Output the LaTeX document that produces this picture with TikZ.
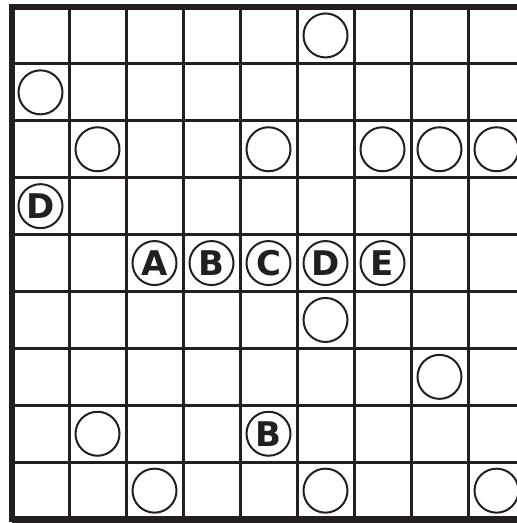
\documentclass[tikz,border=0pt]{standalone}
\usepackage{fontspec}
\setmainfont{DejaVu Sans}
\definecolor{ink}{HTML}{231F20}
\begin{document}
\begin{tikzpicture}[x=1pt, y=-1pt,
  gridline/.style={line width=3pt, draw=ink},
  frame/.style={line width=6.5pt, draw=ink},
  ring/.style={circle, draw=ink, line width=2pt, minimum size=44pt, inner sep=0pt,
    text=ink, font=\fontsize{34}{34}\selectfont\bfseries}]
  \useasboundingbox (0,0) rectangle (517,523);
  \clip (0,0) rectangle (517,523);

  % Grid: 9 x 9 cells, the right column cut off
  \foreach \k in {1,...,9}
    \draw[gridline] ({12+57*\k}, 7) -- ({12+57*\k}, 519);
  \foreach \k in {1,...,8}
    \draw[gridline] (12, {7+56.9*\k}) -- (530, {7+56.9*\k});

  % Thick outer frame (left, top, bottom)
  \draw[frame] (530, 7) -- (12, 7) -- (12, 519) -- (530, 519);
  \draw[line width=8pt, draw=ink] (12, 520) -- (530, 520);

  % Circles, column/row/letter
  \foreach \c/\r/\t in {5/0/{}, 0/1/{}, 1/2/{}, 4/2/{}, 6/2/{}, 7/2/{}, 8/2/{},
      0/3/D, 2/4/A, 3/4/B, 4/4/C, 5/4/D, 6/4/E, 5/5/{}, 7/6/{},
      1/7/{}, 4/7/B, 2/8/{}, 5/8/{}, 8/8/{}}
    \node[ring] (o\c\r) at ({40.5+57*\c}, {35.45+56.9*\r}) {\t};
\end{tikzpicture}
\end{document}
